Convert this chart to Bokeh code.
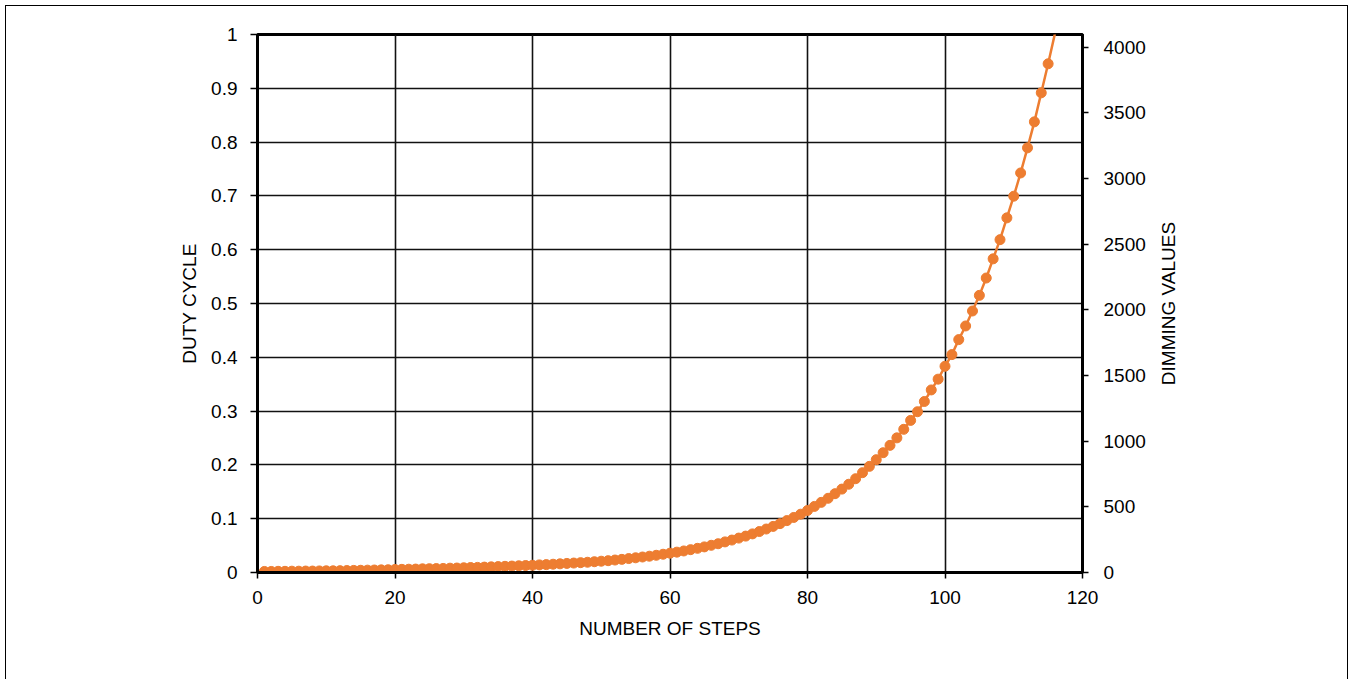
import math
from bokeh.plotting import figure
from bokeh.models import Range1d, LinearAxis, FixedTicker, CustomJSTickFormatter, Label
from bokeh.embed import file_html
from bokeh.resources import INLINE

# ---- data ----
steps = list(range(1, 117))
dimming = [
    8, 8, 9, 9, 10, 10, 11, 11, 12, 13,
    13, 14, 15, 16, 17, 18, 19, 20, 21, 23,
    24, 25, 26, 28, 29, 30, 31, 33, 34, 36,
    38, 39, 41, 43, 45, 47, 49, 51, 53, 55,
    58, 60, 63, 66, 69, 72, 75, 78, 82, 86,
    90, 95, 100, 106, 112, 118, 124, 131, 139, 147,
    155, 164, 174, 184, 195, 207, 219, 233, 247, 262,
    277, 294, 312, 331, 351, 372, 395, 419, 444, 472,
    503, 534, 565, 600, 635, 672, 714, 760, 808, 859,
    912, 968, 1025, 1090, 1158, 1224, 1302, 1390, 1472, 1570,
    1659, 1773, 1877, 1991, 2110, 2242, 2388, 2534, 2700, 2865,
    3042, 3233, 3431, 3652, 3873, 4105,
]
x_ticks = [0, 20, 40, 60, 80, 100, 120]
duty_ticks = [0, 0.1, 0.2, 0.3, 0.4, 0.5, 0.6, 0.7, 0.8, 0.9, 1]
dim_ticks = [0, 500, 1000, 1500, 2000, 2500, 3000, 3500, 4000]
dim_full_scale = 4096
x_title = "NUMBER OF STEPS"
left_title = "DUTY CYCLE"
right_title = "DIMMING VALUES"

FONT = "Liberation Sans"
FS = "19px"
ORANGE = "#ED7D31"

p = figure(
    frame_width=825, frame_height=538,
    min_border_left=251, min_border_right=265,
    min_border_top=28, min_border_bottom=107,
    x_range=Range1d(0, 120), y_range=Range1d(0, 1),
    output_backend="svg", toolbar_location=None,
    background_fill_color="white", border_fill_color="white",
)
p.margin = (5, 0, 0, 5)
p.styles = {"border-top": "1px solid black", "border-left": "1px solid black",
            "border-right": "1px solid black"}
p.extra_y_ranges = {"dim": Range1d(0, dim_full_scale)}

p.outline_line_color = "black"
p.outline_line_width = 3
p.outline_line_alpha = 1

# grids
p.xgrid.ticker = FixedTicker(ticks=x_ticks)
p.ygrid.ticker = FixedTicker(ticks=duty_ticks)
for g in (p.xgrid, p.ygrid):
    g.grid_line_color = "#111111"
    g.grid_line_width = 1.6
    g.grid_line_alpha = 1

def style_axis(ax):
    ax.axis_line_color = "black"
    ax.axis_line_width = 3
    ax.major_tick_line_color = "black"
    ax.major_tick_line_width = 1.5
    ax.major_tick_out = 7
    ax.major_tick_in = 0
    ax.minor_tick_line_color = None
    ax.major_label_text_font = FONT
    ax.major_label_text_font_size = FS
    ax.major_label_text_color = "black"
    ax.axis_label_text_font = FONT
    ax.axis_label_text_font_size = FS
    ax.axis_label_text_font_style = "normal"
    ax.axis_label_text_color = "black"

# bottom axis
xa = p.xaxis[0]
xa.ticker = FixedTicker(ticks=x_ticks)
xa.axis_label = x_title
style_axis(xa)
xa.major_tick_out = 6
xa.major_label_standoff = 12
xa.axis_label_standoff = 11

# left axis
ya = p.yaxis[0]
ya.ticker = FixedTicker(ticks=duty_ticks)
ya.formatter = CustomJSTickFormatter(code="return String(Math.round(tick*10)/10);")
ya.axis_label = left_title
style_axis(ya)
ya.major_label_standoff = 13
ya.axis_label_standoff = 8

# right axis (ticks + labels)
ra = LinearAxis(y_range_name="dim", ticker=FixedTicker(ticks=dim_ticks))
style_axis(ra)
ra.major_tick_out = 6
ra.major_label_standoff = 15
p.add_layout(ra, "right")

# right axis title as a rotated label in the right side panel (reads bottom-to-top)
p.add_layout(Label(
    x=20, y=269, x_units="screen", y_units="screen",
    text=right_title, angle=math.pi / 2,
    text_align="center", text_baseline="middle",
    text_font=FONT, text_font_size=FS, text_color="black",
), "right")

# series
p.line(steps, dimming, y_range_name="dim", line_color=ORANGE, line_width=2.5)
in_range_steps = [s for s, v in zip(steps, dimming) if v <= dim_full_scale]
in_range_vals = [v for v in dimming if v <= dim_full_scale]
p.scatter(in_range_steps, in_range_vals, y_range_name="dim", size=10,
          fill_color=ORANGE, line_color=ORANGE, line_width=1)

open("out.html", "w").write(file_html(p, INLINE))
